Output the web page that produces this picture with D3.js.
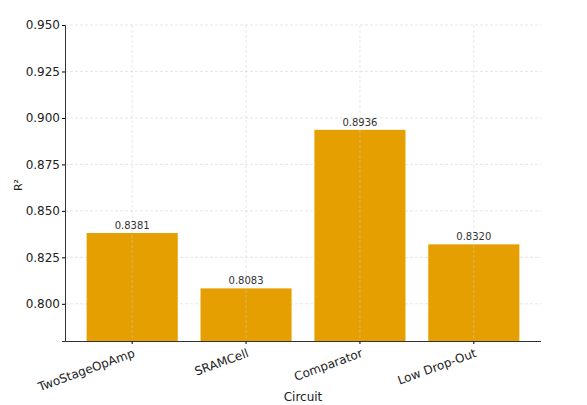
<!DOCTYPE html>
<html>
<head>
<meta charset="utf-8">
<script src="https://cdn.jsdelivr.net/npm/d3@7"></script>
<style>
  body { margin: 0; background: #fff; }
  text { font-family: "DejaVu Sans", sans-serif; }
</style>
</head>
<body>
<div id="chart"></div>
<script>
// data
var circuits = ["TwoStageOpAmp", "SRAMCell", "Comparator", "Low Drop-Out"];
var r2 = [0.8381, 0.8083, 0.8936, 0.8320];
var yTicks = [0.800, 0.825, 0.850, 0.875, 0.900, 0.925, 0.950];

var margin = {top: 25, right: 46, bottom: 64, left: 65},
    width = 587 - margin.left - margin.right,
    height = 405 - margin.top - margin.bottom;

var svg = d3.select("#chart")
  .append("svg")
    .attr("width", 587)
    .attr("height", 405)
  .append("g")
    .attr("transform", "translate(" + margin.left + "," + margin.top + ")");

// x: band scale, matplotlib-like 0.8 bar width with 5% margins
var step = width / 4.18;
var x = d3.scaleBand()
  .domain(circuits)
  .range([0.59 * step - 0.5 * step, width - 0.59 * step + 0.5 * step])
  .paddingInner(0.2)
  .paddingOuter(0.1);

var y = d3.scaleLinear()
  .domain([0.78, 0.95])
  .range([height, 0]);

// grid
svg.append("g")
  .selectAll("line.hgrid")
  .data(yTicks)
  .enter().append("line")
    .attr("x1", 0).attr("x2", width)
    .attr("y1", function(d) { return y(d); })
    .attr("y2", function(d) { return y(d); })
    .attr("stroke", "#e0e0e0")
    .attr("stroke-width", 0.8)
    .attr("stroke-dasharray", "3,2");

// bars
svg.selectAll(".bar")
  .data(circuits)
  .enter().append("rect")
    .attr("class", "bar")
    .attr("x", function(d) { return x(d); })
    .attr("width", x.bandwidth())
    .attr("y", function(d, i) { return y(r2[i]); })
    .attr("height", function(d, i) { return height - y(r2[i]); })
    .attr("fill", "#E69F00");

// vertical grid over bars
svg.append("g")
  .selectAll("line.vgrid")
  .data(circuits)
  .enter().append("line")
    .attr("x1", function(d) { return x(d) + x.bandwidth() / 2; })
    .attr("x2", function(d) { return x(d) + x.bandwidth() / 2; })
    .attr("y1", 0).attr("y2", height)
    .attr("stroke", "#cfcfcf")
    .attr("stroke-opacity", 0.6)
    .attr("stroke-width", 0.8)
    .attr("stroke-dasharray", "3,2");

// value labels
svg.selectAll(".val")
  .data(circuits)
  .enter().append("text")
    .attr("class", "val")
    .attr("x", function(d) { return x(d) + x.bandwidth() / 2; })
    .attr("y", function(d, i) { return y(r2[i]) - 4; })
    .attr("text-anchor", "middle")
    .attr("font-size", "10px")
    .attr("fill", "#333")
    .text(function(d, i) { return r2[i].toFixed(4); });

// axes
var yAxis = d3.axisLeft(y).tickValues(yTicks).tickFormat(d3.format(".3f")).tickSize(3).tickPadding(2);
var gy = svg.append("g").call(yAxis);
gy.selectAll("text").attr("font-size", "12px").attr("fill", "#222").attr("font-family", "DejaVu Sans");
gy.select(".domain").attr("stroke", "#333");

var gx = svg.append("g")
  .attr("transform", "translate(0," + height + ")")
  .call(d3.axisBottom(x).tickSize(3));
gx.select(".domain").attr("stroke", "#333").attr("d", "M0,0.5H" + width);
gx.selectAll("text")
  .attr("font-size", "12px")
  .attr("fill", "#222")
  .attr("font-family", "DejaVu Sans")
  .attr("text-anchor", "end")
  .attr("dy", "0")
  .attr("transform", "translate(0,6) rotate(-20)")
  .attr("y", 10)
  .attr("x", 0);

// axis labels
svg.append("text")
  .attr("x", width / 2)
  .attr("y", height + 60)
  .attr("text-anchor", "middle")
  .attr("font-size", "12px")
  .attr("fill", "#222")
  .text("Circuit");

svg.append("text")
  .attr("transform", "translate(-43," + (height / 2 + 2) + ") rotate(-90)")
  .attr("text-anchor", "middle")
  .attr("font-size", "11px")
  .attr("fill", "#222")
  .text("R²");
</script>
</body>
</html>
